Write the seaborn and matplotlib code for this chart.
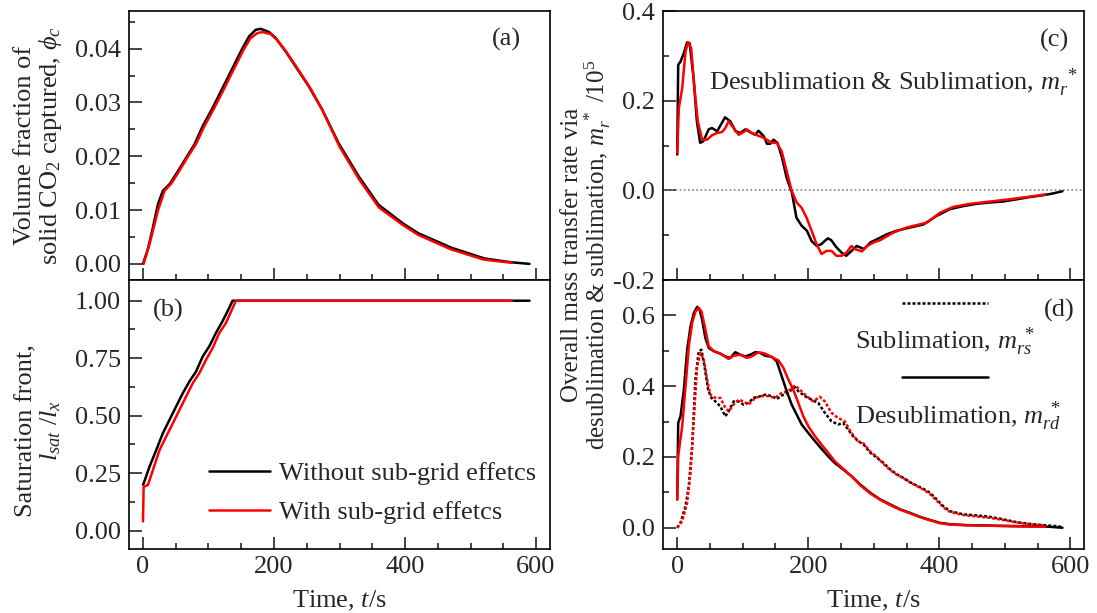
import numpy as np
import seaborn as sns
import matplotlib.pyplot as plt
from matplotlib.ticker import MultipleLocator, FormatStrFormatter

# General settings
sns.set_style('ticks')
plt.rcParams['font.family'] = ['Liberation Serif', 'DejaVu Serif']
plt.rcParams['mathtext.fontset'] = 'custom'
plt.rcParams['mathtext.rm'] = 'Liberation Serif'
plt.rcParams['mathtext.it'] = 'Liberation Serif:italic'
plt.rcParams['axes.unicode_minus'] = False
FS = 19

# (a) volume fraction of solid CO2
a_t_without = [0, 7.6, 15.2, 22.8, 30.4, 40.5, 50.6, 65.8, 78.5, 91.1, 106.3, 121.5, 136.7, 151.9, 162, 172, 179.7,
               192.4, 202.5, 217.7, 232.9, 253.1, 273.4, 298.8, 329.1, 359.5, 397, 420.2, 470.8, 521.4, 561.9, 590]
a_y_without = [0, .0028, .0068, .0111, .0136, .0148, .0167, .0197, .0222, .0256, .0290, .0327, .0364, .0401, .0423,
               .0435, .0437, .0431, .0420, .0395, .0367, .0330, .0287, .0224, .0163, .0110, .0075, .0057, .0030,
               .0010, .0003, 0.0]
a_t_with = [1, 10, 22.8, 33, 43, 53, 68.4, 81, 93.7, 108.9, 124, 139, 154.4, 164.5, 174.7, 182.3, 195, 205, 220,
            235.4, 255.7, 273.4, 300, 330, 360, 397, 420, 470, 520, 563]
a_y_with = [0, .0037, .0099, .0136, .0149, .0168, .0199, .0223, .0256, .0290, .0326, .0363, .0400, .0420, .0429,
            .0431, .0427, .0416, .0392, .0364, .0326, .0287, .0218, .0157, .0105, .0072, .0054, .0027, .0008, .0002]

# (b) saturation front
b_t_without = [0, 1, 10.1, 20.3, 30.4, 40.5, 50.6, 60.8, 70.9, 81, 91.1, 101.3, 111.4, 121.5, 131.7, 136.7, 590]
b_y_without = [0.20, 0.205, 0.279, 0.351, 0.424, 0.482, 0.540, 0.598, 0.649, 0.692, 0.757, 0.802, 0.860, 0.911,
               0.969, 1.0, 1.0]
b_t_with = [0, 1, 7.6, 15.2, 25.3, 35.4, 45.6, 55.7, 65.8, 75.9, 86.1, 96.2, 106.3, 116.4, 126.6, 141.8, 563]
b_y_with = [0.04, 0.19, 0.199, 0.264, 0.351, 0.409, 0.467, 0.525, 0.583, 0.641, 0.685, 0.743, 0.794, 0.859, 0.903,
            1.0, 1.0]

# (c) net mass transfer rate
c_t_without = [0, 1.5, 5, 10, 15, 19, 25, 30, 35, 40, 48, 53, 61, 68, 73, 81, 89, 96, 104, 111, 119, 124, 132, 137,
               142, 147, 153, 160, 167, 175, 182, 190, 198, 205, 213, 220, 225, 230, 235, 243, 251, 258, 266, 274,
               285, 295, 305, 320, 335, 355, 376, 396, 416, 437, 457, 477, 497, 518, 538, 558, 573, 588]
c_y_without = [0.080, 0.280, 0.287, 0.306, 0.330, 0.328, 0.250, 0.154, 0.106, 0.110, 0.136, 0.139, 0.132, 0.150,
               0.163, 0.154, 0.132, 0.128, 0.136, 0.130, 0.124, 0.133, 0.121, 0.104, 0.104, 0.113, 0.106, 0.073,
               0.028, -0.005, -0.061, -0.079, -0.090, -0.113, -0.124, -0.120, -0.113, -0.107, -0.111, -0.127,
               -0.139, -0.146, -0.135, -0.124, -0.131, -0.116, -0.109, -0.098, -0.090, -0.083, -0.076, -0.057,
               -0.042, -0.035, -0.030, -0.027, -0.025, -0.020, -0.015, -0.011, -0.007, -0.002]
c_t_with = [0, 2.5, 7.6, 12.7, 16.7, 21.3, 26.3, 31.4, 38, 45.6, 53.2, 60.8, 68.4, 73.4, 78.5, 86.1, 93.7, 101.3,
            106.3, 113.9, 121.5, 129.1, 136.7, 144.3, 151.9, 159.5, 167.1, 174.7, 182.3, 189.9, 197.5, 205.1,
            212.7, 220.3, 227.9, 235.4, 243, 250.6, 258.2, 265.8, 271, 282, 290, 300, 310, 330, 350, 381, 401,
            421, 447, 477, 507, 538, 562]
c_y_with = [0.084, 0.184, 0.228, 0.310, 0.330, 0.317, 0.228, 0.154, 0.113, 0.113, 0.123, 0.128, 0.130, 0.139,
            0.154, 0.139, 0.124, 0.130, 0.136, 0.128, 0.123, 0.119, 0.113, 0.106, 0.106, 0.087, 0.043, -0.001,
            -0.027, -0.039, -0.061, -0.090, -0.120, -0.142, -0.135, -0.135, -0.146, -0.146, -0.139, -0.124,
            -0.131, -0.136, -0.124, -0.116, -0.111, -0.094, -0.083, -0.072, -0.050, -0.037, -0.030, -0.025,
            -0.020, -0.014, -0.009]

# (d) desublimation (solid) and sublimation (dotted)
d_t_des_without = [0, 1.5, 5, 10.1, 15.2, 20.3, 25.3, 30.4, 33.9, 38, 43, 48.1, 55.7, 65.8, 73.4, 81, 88.6, 96.2,
                   103.8, 111.4, 119, 126.6, 134.2, 144.3, 151.9, 159.5, 167.1, 174.7, 182.3, 189.9, 200, 210.1,
                   220.3, 230.4, 240.5, 253.2, 265.8, 279.5, 294.7, 309.9, 325.1, 340.3, 355.4, 370.6, 385.8, 401,
                   416.2, 441.5, 466.8, 492.1, 517.5, 547.8, 568.1, 588]
d_y_des_without = [0.080, 0.296, 0.315, 0.390, 0.503, 0.569, 0.607, 0.624, 0.618, 0.588, 0.536, 0.508, 0.499,
                   0.492, 0.484, 0.480, 0.496, 0.489, 0.484, 0.489, 0.496, 0.494, 0.486, 0.483, 0.470, 0.428,
                   0.386, 0.348, 0.320, 0.292, 0.268, 0.245, 0.223, 0.202, 0.183, 0.165, 0.146, 0.122, 0.099,
                   0.080, 0.066, 0.052, 0.042, 0.031, 0.022, 0.014, 0.010, 0.0075, 0.0066, 0.0056, 0.0047,
                   0.0038, 0.0028, 0.0]
d_t_des_with = [0, 1.5, 7.6, 12.7, 17.7, 22.8, 27.8, 32.9, 37, 42, 48.1, 55.7, 65.8, 78.5, 86.1, 96.2, 106.3,
                113.9, 124, 134.2, 146.8, 154.4, 162, 169.6, 177.2, 184.8, 192.4, 200, 210.1, 220.3, 230.4,
                240.5, 253.2, 265.8, 279.5, 294.7, 309.9, 325.1, 340.3, 355.4, 370.6, 385.8, 401, 416.2, 441.5,
                466.8, 492.1, 517.5, 547.8, 562]
d_y_des_with = [0.080, 0.202, 0.287, 0.400, 0.513, 0.579, 0.611, 0.621, 0.611, 0.569, 0.513, 0.499, 0.492,
                0.477, 0.486, 0.489, 0.480, 0.484, 0.496, 0.492, 0.480, 0.473, 0.452, 0.419, 0.390, 0.353, 0.315,
                0.287, 0.259, 0.235, 0.212, 0.188, 0.167, 0.146, 0.120, 0.097, 0.079, 0.064, 0.051, 0.041,
                0.030, 0.021, 0.013, 0.009, 0.007, 0.006, 0.005, 0.004, 0.003, 0.003]
d_t_sub_without = [0, 5, 12.7, 17.7, 22.8, 27.8, 32.9, 37, 42, 47.1, 52.2, 58.2, 65.8, 73.4, 78.5, 86.1, 93.7,
                   101.3, 108.9, 116.4, 124, 134.2, 144.3, 151.9, 162, 172.1, 179.7, 184.8, 194.9, 205, 215.2,
                   225.3, 235.4, 245.6, 253.2, 260.8, 268.3, 275.9, 284.6, 294.7, 304.8, 315, 325.1, 335.2,
                   345.3, 355.4, 365.6, 375.7, 385.8, 396, 406.1, 416.2, 436.5, 456.7, 477, 497.2, 517.5, 537.7,
                   558, 578.2, 588]
d_y_sub_without = [0.0, 0.014, 0.061, 0.118, 0.230, 0.419, 0.499, 0.503, 0.452, 0.390, 0.367, 0.357, 0.343,
                   0.315, 0.329, 0.357, 0.357, 0.348, 0.353, 0.367, 0.370, 0.376, 0.372, 0.364, 0.376, 0.386,
                   0.398, 0.386, 0.372, 0.362, 0.353, 0.325, 0.301, 0.292, 0.296, 0.278, 0.259, 0.245, 0.235,
                   0.212, 0.198, 0.183, 0.165, 0.151, 0.141, 0.129, 0.119, 0.110, 0.099, 0.080, 0.061, 0.047,
                   0.038, 0.035, 0.031, 0.024, 0.016, 0.011, 0.0075, 0.0047, 0.002]
d_t_sub_with = [0, 7.6, 15.2, 20.3, 25.3, 30.4, 35.4, 40.5, 45.6, 50.6, 58.2, 65.8, 73.4, 78.5, 86.1, 93.7,
                101.3, 108.9, 119, 129.1, 139.2, 149.3, 159.5, 169.6, 179.7, 187.3, 197.5, 207.6, 217.7, 225.3,
                235.4, 245.6, 255.7, 265.8, 275.9, 284.6, 294.7, 304.8, 315, 325.1, 335.2, 345.3, 355.4, 365.6,
                375.7, 385.8, 396, 406.1, 416.2, 436.5, 456.7, 477, 497.2, 517.5, 537.7, 562]
d_y_sub_with = [0.0, 0.019, 0.071, 0.155, 0.306, 0.456, 0.494, 0.475, 0.419, 0.376, 0.367, 0.367, 0.339, 0.329,
                0.348, 0.362, 0.357, 0.348, 0.367, 0.372, 0.372, 0.367, 0.381, 0.386, 0.402, 0.390, 0.372, 0.357,
                0.370, 0.357, 0.325, 0.310, 0.301, 0.268, 0.245, 0.238, 0.215, 0.200, 0.180, 0.163, 0.150,
                0.140, 0.128, 0.118, 0.108, 0.095, 0.077, 0.058, 0.045, 0.036, 0.032, 0.028, 0.022, 0.015,
                0.010, 0.006]

legend_labels = ['Without sub-grid effetcs', 'With sub-grid effetcs']
BLACK, RED = '#000000', '#ff0000'
LW = 1.8
DOT = (0, (1.2, 0.8))

fig = plt.figure(figsize=(10.97, 6.13), dpi=100)
axa = fig.add_axes([0.1178, 0.5432, 0.3834, 0.4388])
axb = fig.add_axes([0.1178, 0.1044, 0.3834, 0.4388], sharex=axa)
axc = fig.add_axes([0.6048, 0.5432, 0.3834, 0.4388])
axd = fig.add_axes([0.6048, 0.1044, 0.3834, 0.4388], sharex=axc)


def line(ax, t, y, color, ls='-', label=None):
    sns.lineplot(x=np.array(t), y=np.array(y), ax=ax, color=color, lw=LW, linestyle=ls,
                 estimator=None, sort=False, label=label, legend=False)


line(axa, a_t_without, a_y_without, BLACK)
line(axa, a_t_with, a_y_with, RED)
line(axb, b_t_without, b_y_without, BLACK, label=legend_labels[0])
line(axb, b_t_with, b_y_with, RED, label=legend_labels[1])
axc.axhline(0, color='#808080', lw=1.2, ls=(0, (1, 1.5)), zorder=1)
line(axc, c_t_without, c_y_without, BLACK)
line(axc, c_t_with, c_y_with, RED)
line(axd, d_t_sub_without, d_y_sub_without, BLACK, ls=DOT)
line(axd, d_t_sub_with, d_y_sub_with, RED, ls=DOT)
line(axd, d_t_des_without, d_y_des_without, BLACK)
line(axd, d_t_des_with, d_y_des_with, RED)

# axes styling
for ax in [axa, axb, axc, axd]:
    ax.set_xlim(-21, 621)
    ax.xaxis.set_major_locator(MultipleLocator(200))
    ax.xaxis.set_minor_locator(MultipleLocator(50))
    ax.tick_params(which='both', direction='in', top=False, right=False, labelsize=FS, width=1.2)
    ax.tick_params(which='major', length=9)
    ax.tick_params(which='minor', length=4.5)
    ax.tick_params(axis='y', pad=6)
    ax.tick_params(axis='x', pad=5)
    for s in ax.spines.values():
        s.set_linewidth(1.2)
        s.set_color('black')
    ax.set_xlabel('')
    ax.set_ylabel('')

axa.set_ylim(-0.003, 0.047)
axa.yaxis.set_major_locator(MultipleLocator(0.01))
axa.yaxis.set_minor_locator(MultipleLocator(0.005))
axa.yaxis.set_major_formatter(FormatStrFormatter('%.2f'))
axb.set_ylim(-0.08, 1.09)
axb.yaxis.set_major_locator(MultipleLocator(0.25))
axb.yaxis.set_minor_locator(MultipleLocator(0.125))
axb.yaxis.set_major_formatter(FormatStrFormatter('%.2f'))
axc.set_ylim(-0.2, 0.4)
axc.yaxis.set_major_locator(MultipleLocator(0.2))
axc.yaxis.set_minor_locator(MultipleLocator(0.1))
axc.yaxis.set_major_formatter(FormatStrFormatter('%.1f'))
axd.set_ylim(-0.06, 0.70)
axd.yaxis.set_major_locator(MultipleLocator(0.2))
axd.yaxis.set_minor_locator(MultipleLocator(0.1))
axd.yaxis.set_major_formatter(FormatStrFormatter('%.1f'))
axa.tick_params(axis='x', labelbottom=False)
axc.tick_params(axis='x', labelbottom=False)

# labels
axb.set_xlabel('Time, $t$/s', fontsize=FS, labelpad=8)
axd.set_xlabel('Time, $t$/s', fontsize=FS, labelpad=8)
axa.set_ylabel('Volume fraction of\nsolid CO$_2$ captured, $\\phi_c$', fontsize=FS, va='center', linespacing=1.05)
axa.yaxis.set_label_coords(-0.215, 0.5)
axb.set_ylabel('Saturation front,\n$l_{sat}$ /$l_x$', fontsize=FS, va='center', linespacing=1.05)
axb.yaxis.set_label_coords(-0.215, 0.44)
fig.text(0.535, 0.585, 'Overall mass transfer rate via\ndesublimation & sublimation, $m_r^{\\ *}$ /10$^5$',
         fontsize=18, rotation=90, ha='center', va='center', multialignment='center', linespacing=1.0)

# panel tags and annotations
axa.text(0.897, 0.896, '(a)', transform=axa.transAxes, fontsize=FS, ha='center', va='center')
axb.text(0.092, 0.885, '(b)', transform=axb.transAxes, fontsize=FS, ha='center', va='center')
axc.text(0.93, 0.89, '(c)', transform=axc.transAxes, fontsize=FS, ha='center', va='center')
axd.text(0.94, 0.885, '(d)', transform=axd.transAxes, fontsize=FS, ha='center', va='center')
axc.text(0.108, 0.735, 'Desublimation & Sublimation, $m_r^{\\ *}$', transform=axc.transAxes, fontsize=FS,
         ha='left', va='center')
axd.text(0.455, 0.771, 'Sublimation, $m_{rs}^{\\ *}$', transform=axd.transAxes, fontsize=FS,
         ha='left', va='center')
axd.text(0.455, 0.492, 'Desublimation, $m_{rd}^{\\ *}$', transform=axd.transAxes, fontsize=FS,
         ha='left', va='center')
# keys for the line styles in (d)
axd.plot([0.567, 0.772], [0.916, 0.916], transform=axd.transAxes, color=BLACK, lw=LW, ls=DOT)
axd.plot([0.567, 0.772], [0.638, 0.638], transform=axd.transAxes, color=BLACK, lw=LW)

axb.legend(loc='lower left', bbox_to_anchor=(0.19, 0.092), frameon=False, fontsize=FS, handlelength=2.3,
           handletextpad=0.35, labelspacing=0.6, borderpad=0, borderaxespad=0)

plt.savefig('out.png', dpi=100)
